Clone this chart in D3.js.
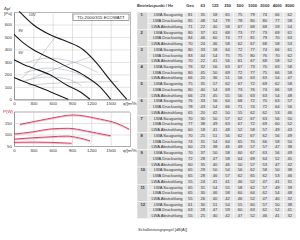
<!DOCTYPE html>
<html>
<head>
<meta charset="utf-8">
<script src="https://cdn.jsdelivr.net/npm/d3@7"></script>
<style>
body { margin: 0; background: #fff; }
svg { display: block; font-family: "Liberation Sans", Arial, sans-serif; }
.grid line { stroke: #c4c4c4; stroke-width: 0.5; }
.grid path { stroke: #777; stroke-width: 0.6; }
.grid text { fill: #333; font-size: 4.4px; }
.tbl text { font-size: 4.1px; fill: #333; }
</style>
</head>
<body>
<div id="chart"></div>
<script>
// axis ticks
var flowTicks = [0, 300, 600, 900, 1200, 1500, 1800];
var pressTicks = [0, 100, 200, 300, 400, 500, 600, 700];
var powerTicks = [50, 100, 150, 200];

// fan curves [m3/h, Pa]
var fan10 = [[80,705],[300,598],[560,517],[820,463],[1075,397],[1283,290],[1490,155],[1748,0]];
var fan8  = [[0,520],[150,450],[300,397],[560,330],[820,262],[1075,196],[1330,101],[1500,0]];
var fan6  = [[0,318],[150,280],[300,249],[560,196],[817,115],[1024,61],[1179,0]];
var fan4  = [[0,174],[150,142],[300,115],[559,61],[843,0]];
var fanLabels = [["10V",230,665],["8V",70,540],["6V",70,360]];

// system / iso lines (grey)
var sysLines = [
  [[120,168],[300,262],[480,390],[672,523]],
  [[170,140],[450,205],[800,272],[1179,338]],
  [[215,113],[600,128],[1100,138],[1619,142]],
  [[180,292],[500,330],[900,302],[1300,215]],
  [[160,212],[500,250],[900,222],[1200,150]],
  [[150,150],[500,178],[850,160],[1050,108]]
];

// power curves [m3/h, W]
var pow10 = [[90,144],[300,156],[560,170],[920,185],[1334,167],[1593,149],[1790,123]];
var pow8  = [[0,102],[300,112],[560,124],[843,127],[1128,115],[1438,98],[1500,95]];
var pow6  = [[0,80],[300,86],[560,90],[817,93],[1000,86],[1180,73]];
var pow4  = [[0,66],[300,67],[560,66],[895,62]];

// sound power table
var bands = ["Ges","63","125","250","500","1000","2000","4000","8000"];
var rowTypes = ["LWA Saugseitig","LWA Druckseitig","LWA Abstrahlung"];
var saug = [
  [81,35,58,65,75,79,74,66,62],[80,37,61,68,73,77,73,69,61],[80,33,58,64,72,77,74,66,61],
  [76,32,56,63,67,73,70,63,58],[75,35,57,62,67,72,69,62,58],[76,33,56,64,68,72,70,63,57],
  [70,30,50,57,62,67,63,56,50],[70,25,51,56,62,67,62,56,49],[70,37,50,58,60,67,63,56,49],
  [65,29,50,54,56,62,58,50,38],[65,31,54,55,58,62,57,49,39],[61,30,51,54,55,60,57,50,38]
];
var druck = [
  [85,48,54,79,78,80,80,77,58],[84,46,60,74,77,81,79,70,63],[83,44,54,75,75,80,76,70,62],
  [80,45,50,69,72,77,75,66,58],[80,40,54,69,73,76,74,66,59],[78,43,54,66,71,74,72,64,56],
  [77,38,49,63,67,72,69,60,52],[74,31,54,64,65,70,66,58,50],[72,28,47,58,64,69,64,52,45],
  [65,28,46,57,62,65,62,53,46],[65,30,46,58,60,64,62,54,48],[63,28,47,59,60,63,62,52,41]
];
var abstr = [
  [71,22,40,58,67,68,68,59,54],[70,24,46,58,62,67,68,58,53],[70,22,41,56,61,67,68,58,52],
  [66,20,36,51,56,63,63,54,47],[66,23,45,55,56,63,63,54,48],[65,20,42,50,55,62,62,53,46],
  [60,18,41,48,52,58,57,49,43],[60,23,38,46,49,57,57,47,38],[60,35,40,46,50,57,53,47,42],
  [55,24,41,41,46,52,47,41,31],[55,26,40,42,46,52,47,40,32],[55,25,40,42,47,52,46,41,32]
];

var svg = d3.select("#chart").append("svg")
  .attr("width", 300).attr("height", 240);

var x = d3.scaleLinear().domain([0, 1800]).range([14, 130]),
    yP = d3.scaleLinear().domain([0, 700]).range([99.3, 12]),
    yW = d3.scaleLinear().domain([50, 200]).range([146, 111.5]);

var fmtQ = function(d) { return d === 1800 ? "q/[m³/h]" : d; };

// ---- pressure chart
var g1 = svg.append("g");
g1.append("g").attr("class", "grid")
  .attr("transform", "translate(0," + yP(0) + ")")
  .call(d3.axisBottom(x).tickValues(flowTicks).tickSize(-(yP(0) - yP(700))).tickPadding(2.5).tickFormat(fmtQ));
g1.append("g").attr("class", "grid")
  .attr("transform", "translate(" + x(0) + ",0)")
  .call(d3.axisLeft(yP).tickValues(pressTicks).tickSize(-(x(1800) - x(0))).tickPadding(2)
    .tickFormat(function(d) { return d === 700 ? "" : d; }));

g1.append("text").attr("x", 4).attr("y", 10).attr("font-size", 4.4).attr("fill", "#333").text("Δp/");
g1.append("text").attr("x", 4).attr("y", 14.5).attr("font-size", 4.4).attr("fill", "#333").text("[Pa]");

var line = d3.line().curve(d3.curveCatmullRom)
  .x(function(d) { return x(d[0]); })
  .y(function(d) { return yP(d[1]); });

g1.selectAll(".sys").data(sysLines).enter().append("path")
  .attr("class", "sys")
  .attr("d", line)
  .attr("fill", "none").attr("stroke", "#9aa3ad").attr("stroke-width", 0.5);

line.curve(d3.curveMonotoneX);
g1.selectAll(".fan").data([fan10, fan8, fan6, fan4]).enter().append("path")
  .attr("class", "fan")
  .attr("d", line)
  .attr("fill", "none").attr("stroke", "#1a1a1a").attr("stroke-width", 1.1);

g1.selectAll(".flab").data(fanLabels).enter().append("text")
  .attr("x", function(d) { return x(d[1]); })
  .attr("y", function(d) { return yP(d[2]); })
  .attr("font-size", 3.8).attr("fill", "#333")
  .text(function(d) { return d[0]; });

// title box
g1.append("rect").attr("x", 73).attr("y", 14).attr("width", 56).attr("height", 6.5)
  .attr("fill", "#fff").attr("stroke", "#444").attr("stroke-width", 0.5);
g1.append("text").attr("x", 101).attr("y", 18.8).attr("text-anchor", "middle")
  .attr("font-size", 4.3).attr("fill", "#222").text("TD-2000/315 ECOWATT");

// ---- power chart
var g2 = svg.append("g");
g2.append("g").attr("class", "grid")
  .attr("transform", "translate(0," + yW(50) + ")")
  .call(d3.axisBottom(x).tickValues(flowTicks).tickSize(-(yW(50) - yW(195))).tickPadding(2.5).tickFormat(fmtQ));
g2.append("g").attr("class", "grid")
  .attr("transform", "translate(" + x(0) + ",0)")
  .call(d3.axisLeft(yW).tickValues(powerTicks.slice(0, 3)).tickSize(-(x(1800) - x(0))).tickPadding(2));
g2.append("text").attr("x", 3).attr("y", 113).attr("font-size", 4.4).attr("fill", "#d0203a").text("P(W)");

var pline = d3.line().curve(d3.curveMonotoneX)
  .x(function(d) { return x(d[0]); })
  .y(function(d) { return yW(d[1]); });
var pows = [pow10, pow8, pow6, pow4];
g2.selectAll(".pw2").data(pows).enter().append("path")
  .attr("d", pline).attr("transform", "translate(0,0.9)")
  .attr("fill", "none").attr("stroke", "#f2a2b4").attr("stroke-width", 0.8);
g2.selectAll(".pw").data(pows).enter().append("path")
  .attr("d", pline)
  .attr("fill", "none").attr("stroke", "#c8183a").attr("stroke-width", 0.8);

// ---- table
var rows = [];
d3.range(12).forEach(function(i) {
  [saug, druck, abstr].forEach(function(arr, j) {
    rows.push({ pt: i + 1, type: rowTypes[j], vals: arr[i], first: j === 0 });
  });
});

var yR = d3.scaleBand().domain(d3.range(rows.length)).range([12.1, 218.7]),
    xC = d3.scaleBand().domain(bands).range([184, 296]);

var tbl = svg.append("g").attr("class", "tbl");

tbl.selectAll(".num").data(d3.range(12)).enter().append("rect")
  .attr("x", 137).attr("width", 11)
  .attr("y", function(i) { return yR(i * 3); })
  .attr("height", yR.bandwidth() * 3)
  .attr("fill", "#d6d6d6").attr("stroke", "#fff").attr("stroke-width", 0.5);

var tr = tbl.selectAll(".row").data(rows).enter().append("g")
  .attr("transform", function(d, i) { return "translate(0," + yR(i) + ")"; });

tr.append("rect").attr("x", 148).attr("width", 36).attr("height", yR.bandwidth())
  .attr("fill", "#e6e6e6").attr("stroke", "#fff").attr("stroke-width", 0.5);
tr.selectAll(".c").data(function(d) { return d.vals; }).enter().append("rect")
  .attr("x", function(v, k) { return xC(bands[k]); })
  .attr("width", xC.bandwidth()).attr("height", yR.bandwidth())
  .attr("fill", "#e6e6e6").attr("stroke", "#fff").attr("stroke-width", 0.5);

tr.append("text").attr("x", 182.5).attr("y", yR.bandwidth() / 2 + 1.4)
  .attr("text-anchor", "end").text(function(d) { return d.type; });
tr.selectAll(".v").data(function(d) { return d.vals; }).enter().append("text")
  .attr("x", function(v, k) { return xC(bands[k]) + xC.bandwidth() / 2; })
  .attr("y", yR.bandwidth() / 2 + 1.4)
  .attr("text-anchor", "middle").text(function(v) { return v; });
tr.filter(function(d) { return d.first; }).append("text")
  .attr("x", 140.5).attr("y", yR.bandwidth() / 2 + 1.4)
  .attr("font-weight", "bold").text(function(d) { return d.pt; });

// header
tbl.append("text").attr("x", 137).attr("y", 6.6).attr("font-weight", "bold")
  .text("Betriebspunkt / Hz");
tbl.selectAll(".h").data(bands).enter().append("text")
  .attr("x", function(b) { return xC(b) + xC.bandwidth() / 2; })
  .attr("y", 6.6).attr("text-anchor", "middle").attr("font-weight", "bold")
  .text(function(b) { return b; });

svg.append("text").attr("x", 138).attr("y", 231).attr("font-size", 4).attr("fill", "#333")
  .text("Schalleistungspegel [dB(A)]");
</script>
</body>
</html>
